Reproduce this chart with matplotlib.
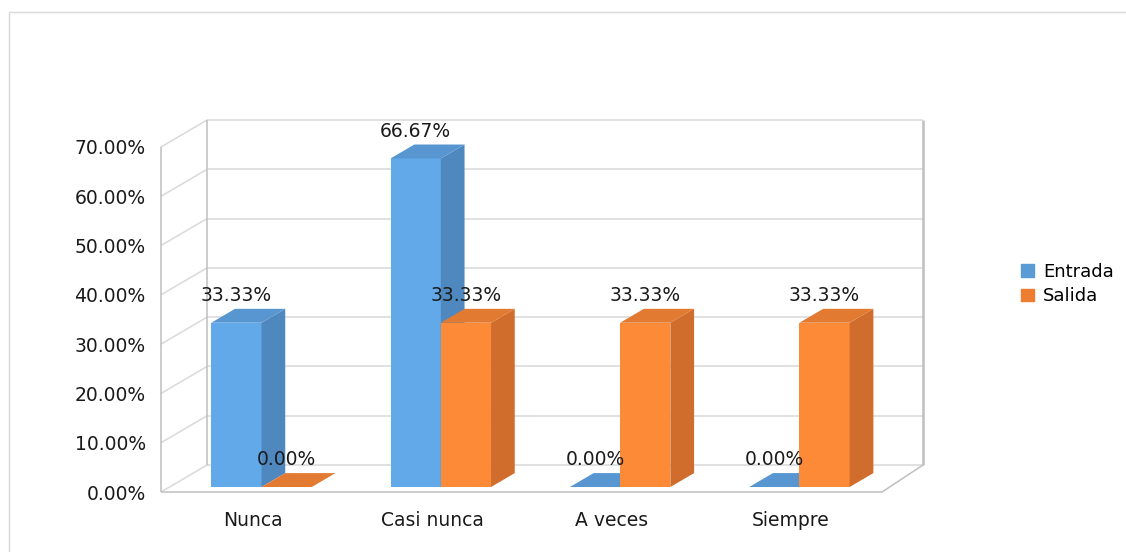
import numpy as np
import matplotlib.pyplot as plt
from matplotlib.patches import Polygon, Patch, Rectangle

# data
categories = ["Nunca", "Casi nunca", "A veces", "Siempre"]
entrada = [33.33, 66.67, 0.00, 0.00]
salida = [0.00, 33.33, 33.33, 33.33]
yticks = [0, 10, 20, 30, 40, 50, 60, 70]

# colours (front, side, top)
blue = ("#61A9E8", "#4F88BF", "#5796D0")
orange = ("#FD8A37", "#D06D2C", "#E37A31")
grid_c = "#D9D9D9"
edge_c = "#BFBFBF"
txt_c = "#1A1A1A"

# pseudo 3d layout
XL, XR = -0.513, 3.508      # front plane x range (category units)
DX, DY = 0.257, 5.48        # shift of the back plane
DXR = 0.229                 # right side looks a bit steeper
ZF, ZB = 0.185, 0.70        # bar depth (0 = front, 1 = back)
BW = 0.28                   # bar width
FS = 13.5

fig = plt.figure(figsize=(11.26, 5.52), dpi=100)
fig.patches.append(Rectangle((9/1126, -0.1), 1.2, 1 - 12/552 + 0.1,
                             transform=fig.transFigure, fill=False,
                             edgecolor="#D9D9D9", lw=1.0))
ax = fig.add_axes([161/1126, 60/552, (882-161)/1126, (492-147)/552])
ax.set_xlim(XL, XR)
ax.set_ylim(0, 70)


def P(x, y, z):
    return (x + z*DX, y + z*DY)


def poly(pts, fc, zo=3):
    ax.add_patch(Polygon(pts, closed=True, facecolor=fc, edgecolor=fc,
                         lw=0, clip_on=False, zorder=zo))


def line(a, b, c=grid_c, lw=1.1):
    ax.plot([a[0], b[0]], [a[1], b[1]], color=c, lw=lw,
            clip_on=False, zorder=1, solid_capstyle="butt")


# walls and grid
top = yticks[-1]
xbr = XR + DXR - DX   # back right corner, in front-plane x before shift
for t in yticks:
    line(P(XL, t, 1), P(xbr, t, 1))
    line(P(XL, t, 0), P(XL, t, 1))
line(P(XL, 0, 0), P(XL, top, 0), edge_c)
line(P(XL, 0, 1), P(XL, top, 1), edge_c)
line(P(xbr, 0, 1), P(xbr, top, 1), edge_c, 1.8)
line(P(XL, 0, 0), P(XR, 0, 0), edge_c)
line(P(XR, 0, 0), P(xbr, 0, 1), edge_c)


def bar(x0, v, cols):
    x1 = x0 + BW
    if v > 0:
        poly([P(x0, 0, ZF), P(x1, 0, ZF), P(x1, v, ZF), P(x0, v, ZF)], cols[0])
        poly([P(x1, 0, ZF), P(x1, 0, ZB), P(x1, v, ZB), P(x1, v, ZF)], cols[1])
    poly([P(x0, v, ZF), P(x1, v, ZF), P(x1, v, ZB), P(x0, v, ZB)], cols[2])
    lx = P(x0 + BW/2, v, ZF)[0]
    ly = P(x0, v, ZB)[1]
    ax.annotate("{:.2f}%".format(v), (lx, ly), xytext=(0, 9.5),
                textcoords="offset points", ha="center", va="center",
                fontsize=FS, color=txt_c, zorder=10,
                annotation_clip=False)


for i in range(len(categories)):
    bar(i - BW, entrada[i], blue)
    bar(i, salida[i], orange)

# axes text
ax.set_yticks(yticks)
ax.set_yticklabels(["{:.2f}%".format(t) for t in yticks], fontsize=FS)
ax.set_xticks(range(len(categories)))
ax.set_xticklabels(categories, fontsize=13.5)
ax.tick_params(axis="y", length=0, pad=11, colors=txt_c)
ax.tick_params(axis="x", length=0, pad=14, colors=txt_c)
for s in ax.spines.values():
    s.set_visible(False)
ax.patch.set_visible(False)

handles = [Patch(color="#5B9BD5", label="Entrada"),
           Patch(color="#ED7D31", label="Salida")]
fig.legend(handles=handles, loc="center left",
           bbox_to_anchor=(1005/1126, 1 - 284/552), frameon=False,
           fontsize=13, handlelength=0.7, handleheight=0.7,
           handletextpad=0.5, labelspacing=0.35)

fig.savefig("out.png", dpi=100)
